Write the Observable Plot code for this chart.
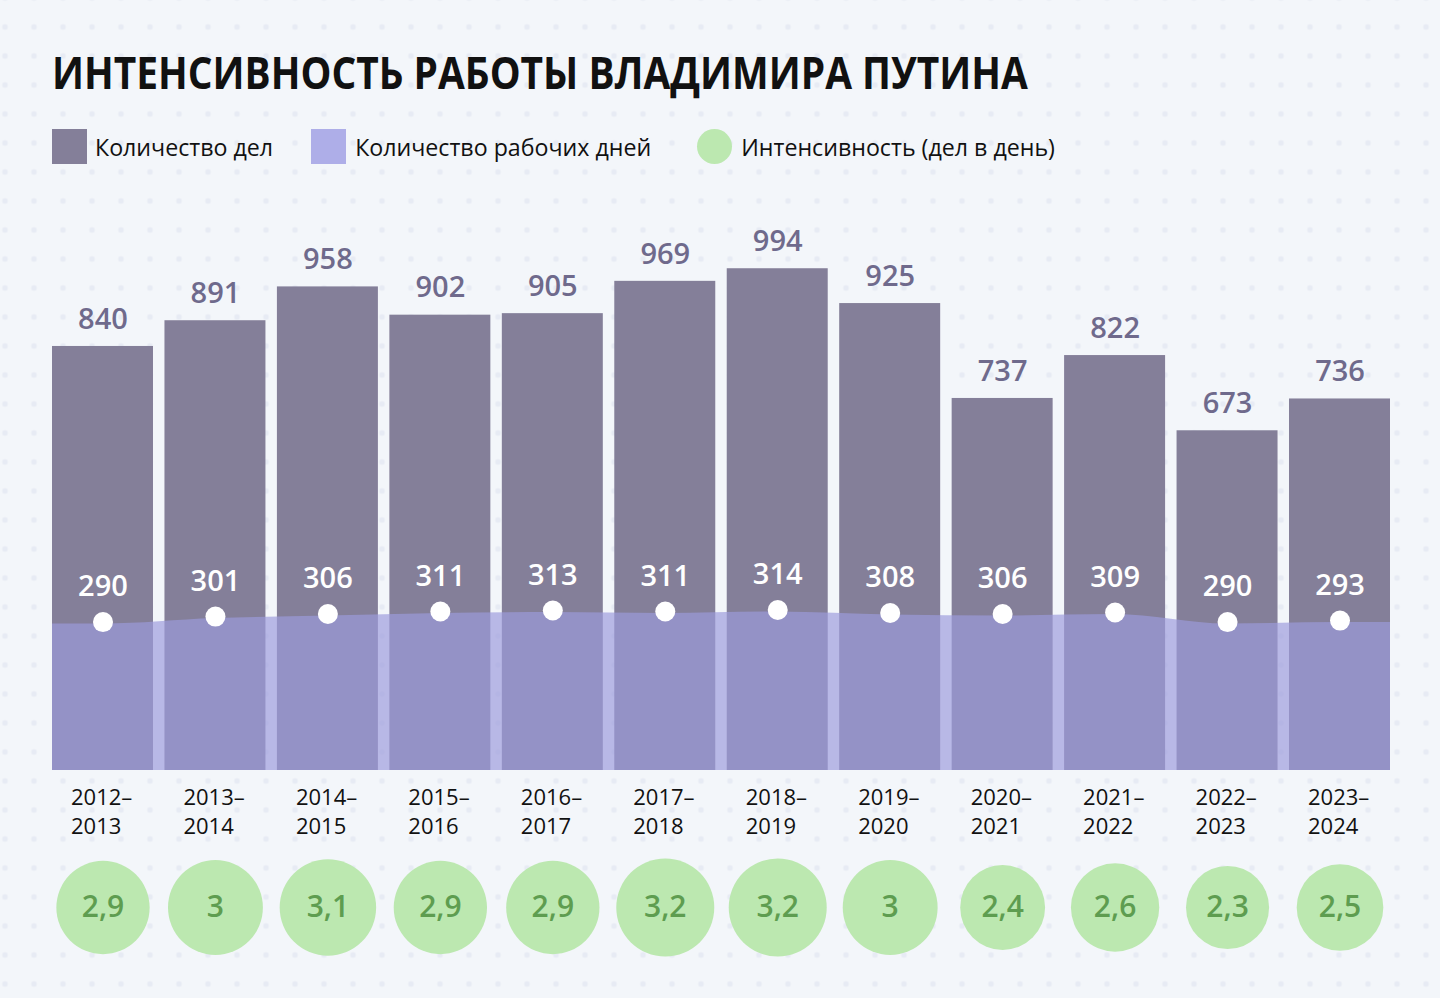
<!DOCTYPE html>
<html lang="ru">
<head>
<meta charset="utf-8">
<script src="https://cdn.jsdelivr.net/npm/d3@7"></script>
<script src="https://cdn.jsdelivr.net/npm/@observablehq/plot@0.6"></script>
<style>
  html, body { margin: 0; padding: 0; }
  body {
    width: 1440px; height: 998px; overflow: hidden; position: relative;
    font-family: "Open Sans", "Noto Sans", sans-serif;
    background-color: #f3f6fa;
    background-image: radial-gradient(circle, #e7ebf4 2.6px, rgba(243,246,250,0) 3.2px);
    background-size: 29px 29px;
    background-position: -9.5px 12.5px;
  }
  #title {
    position: absolute; left: 52px; top: 50px; margin: 0;
    font-size: 45px; line-height: 44px; font-weight: 700; color: #111;
    white-space: nowrap; transform: scaleX(0.864); transform-origin: 0 0;
  }
  #legend {
    position: absolute; left: 52px; top: 129px; height: 35px;
    display: flex; align-items: center; font-size: 23.2px; color: #111; white-space: nowrap;
  }
  .sw { width: 35px; height: 35px; display: inline-block; }
  .item { display: flex; align-items: center; }
  #chart { position: absolute; left: 0; top: 200px; }
</style>
</head>
<body>
<h1 id="title">ИНТЕНСИВНОСТЬ РАБОТЫ ВЛАДИМИРА ПУТИНА</h1>
<div id="legend"></div>
<div id="chart"></div>
<script>
// ---- data ----
const periods = ["2012–\n2013", "2013–\n2014", "2014–\n2015", "2015–\n2016", "2016–\n2017", "2017–\n2018",
                 "2018–\n2019", "2019–\n2020", "2020–\n2021", "2021–\n2022", "2022–\n2023", "2023–\n2024"];
const cases = [840, 891, 958, 902, 905, 969, 994, 925, 737, 822, 673, 736];
const workDays = [290, 301, 306, 311, 313, 311, 314, 308, 306, 309, 290, 293];
const intensity = [2.9, 3, 3.1, 2.9, 2.9, 3.2, 3.2, 3, 2.4, 2.6, 2.3, 2.5];
const legendLabels = ["Количество дел", "Количество рабочих дней", "Интенсивность (дел в день)"];

// ---- styles ----
const barColor = "#847f99";
const barLabelColor = "#6f6a8c";
const areaColor = "#9c9bdb";
const greenFill = "#bce8b0";
const greenText = "#5e9d50";

// legend
const legend = document.getElementById("legend");
const swatches = [
  {fill: barColor, radius: "0", gap: "8px", after: "38px"},
  {fill: "#aeaee8", radius: "0", gap: "9px", after: "46px"},
  {fill: greenFill, radius: "50%", gap: "9px", after: "0"}
];
legendLabels.forEach((t, k) => {
  const it = document.createElement("div");
  it.className = "item";
  it.style.marginRight = swatches[k].after;
  const s = document.createElement("span");
  s.className = "sw";
  s.style.background = swatches[k].fill;
  s.style.borderRadius = swatches[k].radius;
  s.style.marginRight = swatches[k].gap;
  it.appendChild(s);
  const l = document.createElement("span");
  l.textContent = t;
  it.appendChild(l);
  legend.appendChild(it);
});

const data = periods.map((p, i) => ({i, period: p, cases: cases[i], days: workDays[i], intensity: intensity[i]}));
const half = 0.449;
// area extends to outer bar edges, holding the end values
const areaData = [{i: -half, days: workDays[0]}, ...data, {i: data.length - 1 + half, days: workDays[workDays.length - 1]}];

const chart = Plot.plot({
  width: 1440,
  height: 798,
  marginLeft: 52,
  marginRight: 50,
  marginTop: 65.2,
  marginBottom: 228,
  style: {background: "transparent", fontFamily: "'Open Sans', 'Noto Sans', sans-serif", overflow: "visible"},
  x: {type: "linear", domain: [-half, data.length - 1 + half], axis: null},
  y: {domain: [0, 1000], axis: null},
  r: {type: "sqrt", domain: [0, 3.2], range: [0, 49]},
  marks: [
    Plot.rect(data, {x1: d => d.i - half, x2: d => d.i + half, y1: () => 0, y2: "cases", fill: barColor}),
    Plot.areaY(areaData, {x: "i", y: "days", curve: "monotone-x", fill: areaColor, fillOpacity: 0.68}),
    Plot.dot(data, {x: "i", y: "days", r: 10, fill: "white", dy: -2}),
    Plot.text(data, {x: "i", y: "days", text: d => String(d.days), dy: -37, fill: "white",
      fontSize: 29, fontWeight: 600}),
    Plot.text(data, {x: "i", y: "cases", text: d => String(d.cases), dy: -27, fill: barLabelColor,
      fontSize: 29, fontWeight: 600}),
    Plot.text(data, {x: "i", y: () => 0, text: "period", dy: 40, dx: -32, textAnchor: "start",
      lineAnchor: "middle", lineHeight: 1.32, fill: "#111", fontSize: 22}),
    Plot.dot(data, {x: "i", y: () => 0, r: "intensity", dy: 137, fill: greenFill}),
    Plot.text(data, {x: "i", y: () => 0, text: d => String(d.intensity).replace(".", ","), dy: 137,
      fill: greenText, fontSize: 30, fontWeight: 600})
  ]
});
document.getElementById("chart").appendChild(chart);
</script>
</body>
</html>
